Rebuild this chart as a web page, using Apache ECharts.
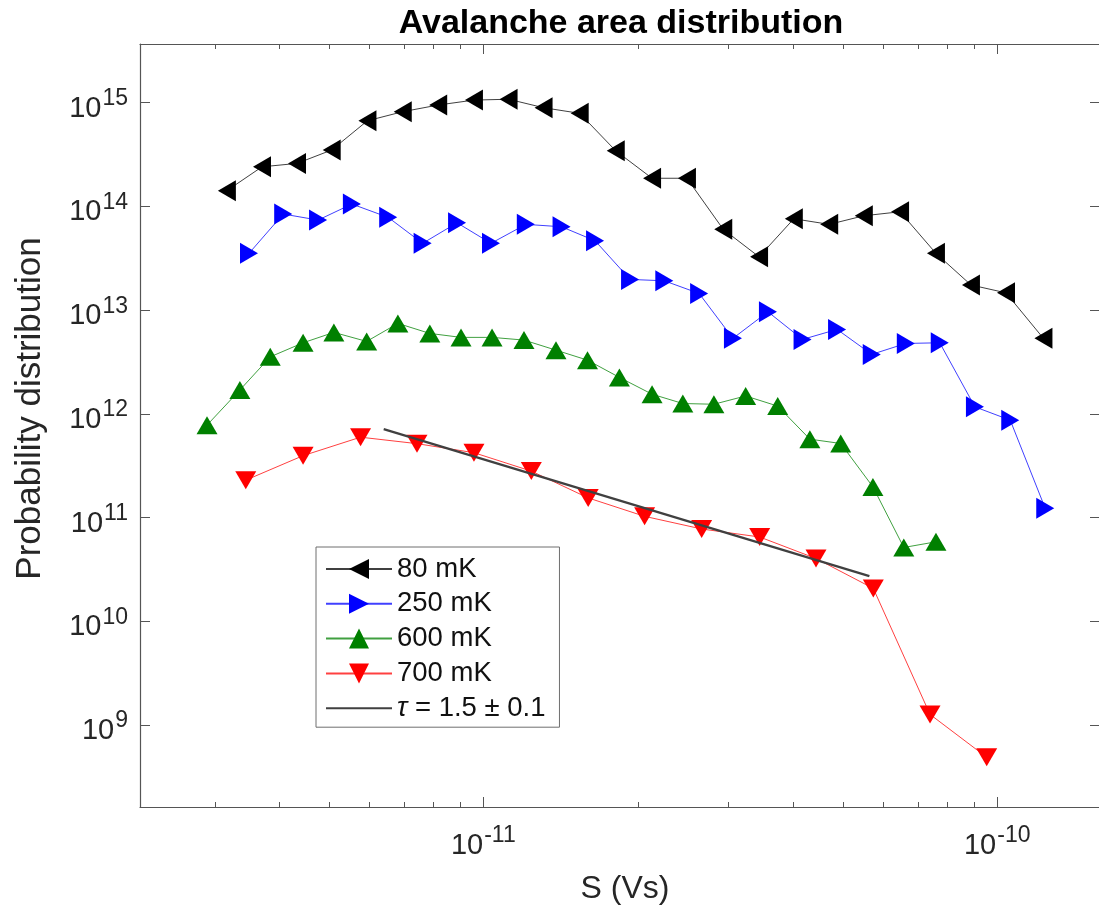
<!DOCTYPE html>
<html>
<head>
<meta charset="utf-8">
<title>Avalanche area distribution</title>
<script src="https://cdn.jsdelivr.net/npm/echarts@6/dist/echarts.min.js"></script>
<style>
  html, body { margin: 0; padding: 0; background: #fff; }
  #chart { width: 1099px; height: 909px; }
</style>
</head>
<body>
<div id="chart"></div>
<script>
// ---- data: avalanche area S (Vs) and probability distribution per temperature ----
const black80X = [3.17e-12, 3.71e-12, 4.34e-12, 5.07e-12, 5.95e-12, 6.97e-12, 8.17e-12, 9.59e-12,
  1.12e-11, 1.31e-11, 1.54e-11, 1.81e-11, 2.13e-11, 2.49e-11, 2.93e-11, 3.44e-11,
  4.02e-11, 4.71e-11, 5.50e-11, 6.47e-11, 7.60e-11, 8.89e-11, 1.04e-10, 1.23e-10];
const black80Y = [1.42e14, 2.41e14, 2.60e14, 3.50e14, 6.70e14, 8.19e14, 9.50e14, 1.06e15,
  1.08e15, 8.95e14, 7.90e14, 3.44e14, 1.87e14, 1.87e14, 6.02e13, 3.27e13,
  7.61e13, 6.72e13, 8.13e13, 8.89e13, 3.53e13, 1.75e13, 1.47e13, 5.35e12];

const blue250X = [3.50e-12, 4.08e-12, 4.77e-12, 5.55e-12, 6.53e-12, 7.62e-12, 8.89e-12, 1.035e-11,
  1.21e-11, 1.42e-11, 1.65e-11, 1.93e-11, 2.25e-11, 2.63e-11, 3.06e-11, 3.58e-11,
  4.18e-11, 4.88e-11, 5.70e-11, 6.64e-11, 7.73e-11, 9.05e-11, 1.06e-10, 1.24e-10];
const blue250Y = [3.53e13, 8.45e13, 7.39e13, 1.055e14, 7.85e13, 4.41e13, 6.96e13, 4.41e13,
  6.72e13, 6.37e13, 4.67e13, 1.98e13, 1.92e13, 1.45e13, 5.35e12, 9.65e12,
  5.23e12, 6.53e12, 3.75e12, 4.78e12, 4.85e12, 1.17e12, 8.71e11, 1.23e11];

const green600X = [2.90e-12, 3.36e-12, 3.85e-12, 4.46e-12, 5.12e-12, 5.93e-12, 6.82e-12, 7.87e-12,
  9.05e-12, 1.04e-11, 1.20e-11, 1.385e-11, 1.595e-11, 1.84e-11, 2.13e-11, 2.445e-11,
  2.81e-11, 3.24e-11, 3.74e-11, 4.32e-11, 4.96e-11, 5.73e-11, 6.58e-11, 7.60e-11];
const green600Y = [7.80e11, 1.70e12, 3.55e12, 4.85e12, 6.11e12, 5.00e12, 7.46e12, 5.97e12,
  5.47e12, 5.47e12, 5.15e12, 4.12e12, 3.30e12, 2.25e12, 1.55e12, 1.26e12,
  1.24e12, 1.49e12, 1.19e12, 5.71e11, 5.19e11, 1.98e11, 5.16e10, 5.85e10];

const red700X = [3.45e-12, 4.46e-12, 5.77e-12, 7.43e-12, 9.59e-12, 1.24e-11, 1.60e-11,
  2.06e-11, 2.66e-11, 3.45e-11, 4.44e-11, 5.74e-11, 7.40e-11, 9.54e-11];
const red700Y = [2.30e11, 3.96e11, 5.97e11, 5.17e11, 4.23e11, 2.81e11, 1.55e11,
  1.03e11, 7.78e10, 6.51e10, 4.04e10, 2.08e10, 1.27e9, 4.90e8];

// power-law fit, slope -tau
const fitX = [6.4e-12, 5.64e-11];
const fitY = [7.13e11, 2.73e10];

// series names shown in the legend
const seriesNames = ['80 mK', '250 mK', '600 mK', '700 mK', 'τ = 1.5 ± 0.1'];

// axis extents (log10 of the limits) and minor tick values on S
const xLogRange = [-11.668, -9.800];
const yLogRange = [8.211, 15.566];
const xMinorTicks = [3e-12, 4e-12, 5e-12, 6e-12, 7e-12, 8e-12, 9e-12,
  2e-11, 3e-11, 4e-11, 5e-11, 6e-11, 7e-11, 8e-11, 9e-11];

// ---- styling ----
const FONT = '"Liberation Sans", Arial, Helvetica, sans-serif';
const AXIS_COLOR = '#555555';
const TEXT_COLOR = '#262626';

const zip = (xs, ys) => xs.map((x, i) => [x, ys[i]]);

// "10" with a raised exponent for decade ticks, nothing elsewhere
function powerLabel(v) {
  const e = Math.log10(v);
  const r = Math.round(e);
  if (Math.abs(e - r) > 1e-6) return '';
  return '{b|10}{e|' + r + '}';
}
const powerRich = {
  b: { fontSize: 29, fontFamily: FONT, color: TEXT_COLOR, lineHeight: 29, verticalAlign: 'bottom' },
  e: { fontSize: 23, fontFamily: FONT, color: TEXT_COLOR, lineHeight: 23, padding: [0, 0, 13, 1], verticalAlign: 'bottom' }
};

function logAxis(kind, pos, range, showLabels) {
  const ax = {
    type: 'log',
    logBase: 10,
    position: pos,
    min: Math.pow(10, range[0]),
    max: Math.pow(10, range[1]),
    axisLine: { show: true, lineStyle: { color: AXIS_COLOR, width: 1.2 } },
    axisTick: { show: true, inside: true, length: 10, lineStyle: { color: AXIS_COLOR, width: 1 } },
    splitLine: { show: false },
    minorTick: { show: false },
    axisLabel: { show: false }
  };
  if (showLabels) {
    ax.axisLabel = {
      show: true,
      margin: kind === 'x' ? 24 : 12,
      padding: kind === 'x' ? 0 : [12, 0, 0, 0],
      showMinLabel: false,
      showMaxLabel: false,
      formatter: powerLabel,
      rich: powerRich
    };
  }
  return ax;
}

const xBottom = logAxis('x', 'bottom', xLogRange, true);
xBottom.name = 'S (Vs)';
xBottom.nameLocation = 'middle';
xBottom.nameGap = 66;
xBottom.nameTextStyle = { fontSize: 32, fontFamily: FONT, color: TEXT_COLOR, padding: [0, 0, 0, 10] };
const xTop = logAxis('x', 'top', xLogRange, false);

const yLeft = logAxis('y', 'left', yLogRange, true);
yLeft.name = 'Probability distribution';
yLeft.nameLocation = 'middle';
yLeft.nameGap = 92;
yLeft.nameTextStyle = { fontSize: 35, fontFamily: FONT, color: TEXT_COLOR, padding: [0, 0, 0, 34] };
const yRight = logAxis('y', 'right', yLogRange, false);

function markerSeries(name, xs, ys, color, rotate) {
  return {
    name: name,
    type: 'line',
    data: zip(xs, ys),
    symbol: 'triangle',
    symbolRotate: rotate,
    symbolSize: [21, 18],
    showAllSymbol: true,
    itemStyle: { color: color, borderWidth: 0 },
    lineStyle: { color: color, width: 1, opacity: 0.75 },
    emphasis: { disabled: true },
    xAxisIndex: 0,
    yAxisIndex: 0
  };
}

const chart = echarts.init(document.getElementById('chart'), null, { renderer: 'canvas' });

chart.setOption({
  animation: false,
  backgroundColor: '#ffffff',
  textStyle: { fontFamily: FONT },
  grid: { left: 140, top: 44, right: -1, bottom: 102, containLabel: false, outerBoundsMode: 'none' },
  xAxis: [xBottom, xTop],
  yAxis: [yLeft, yRight],
  graphic: [{
    type: 'text',
    x: 621,
    y: 24,
    silent: true,
    style: {
      text: 'Avalanche area distribution',
      font: 'bold 34px ' + FONT,
      fill: '#000000',
      align: 'center',
      verticalAlign: 'middle'
    }
  }],
  legend: {
    orient: 'vertical',
    left: 316,
    top: 547,
    padding: [8, 14, 5, 9],
    itemWidth: 66,
    itemHeight: 25,
    itemGap: 6.8,
    borderColor: '#6e6e6e',
    borderWidth: 1,
    backgroundColor: '#ffffff',
    selectedMode: false,
    textStyle: {
      fontSize: 27.5, fontFamily: FONT, color: '#111111', lineHeight: 25,
      rich: { i: { fontSize: 27.5, fontFamily: FONT, fontStyle: 'italic', color: '#111111' } }
    },
    formatter: function (name) {
      return name.charAt(0) === 'τ' ? '{i|τ}' + name.slice(1) : name;
    },
    data: [
      { name: seriesNames[0] },
      { name: seriesNames[1] },
      { name: seriesNames[2] },
      { name: seriesNames[3] },
      { name: seriesNames[4], itemStyle: { opacity: 0 } }
    ]
  },
  series: [
    markerSeries(seriesNames[0], black80X, black80Y, '#000000', 90),
    markerSeries(seriesNames[1], blue250X, blue250Y, '#0000ff', -90),
    markerSeries(seriesNames[2], green600X, green600Y, '#008000', 0),
    markerSeries(seriesNames[3], red700X, red700Y, '#ff0000', 180),
    {
      name: seriesNames[4],
      type: 'line',
      data: zip(fitX, fitY),
      symbol: 'none',
      lineStyle: { color: '#404040', width: 2.2 },
      emphasis: { disabled: true },
      z: 5
    },
    {
      // minor ticks of the log S axis, bottom and top edges
      type: 'custom',
      silent: true,
      clip: false,
      data: xMinorTicks.map(v => [v, 1e12]),
      renderItem: function (params, api) {
        const x = Math.round(api.coord([api.value(0), 1e12])[0]) + 0.5;
        const cs = params.coordSys;
        const yb = cs.y + cs.height;
        const yt = cs.y;
        const st = { stroke: AXIS_COLOR, lineWidth: 1 };
        return {
          type: 'group',
          children: [
            { type: 'line', shape: { x1: x, y1: yb, x2: x, y2: yb - 5 }, style: st },
            { type: 'line', shape: { x1: x, y1: yt, x2: x, y2: yt + 5 }, style: st }
          ]
        };
      }
    }
  ]
});
</script>
</body>
</html>
